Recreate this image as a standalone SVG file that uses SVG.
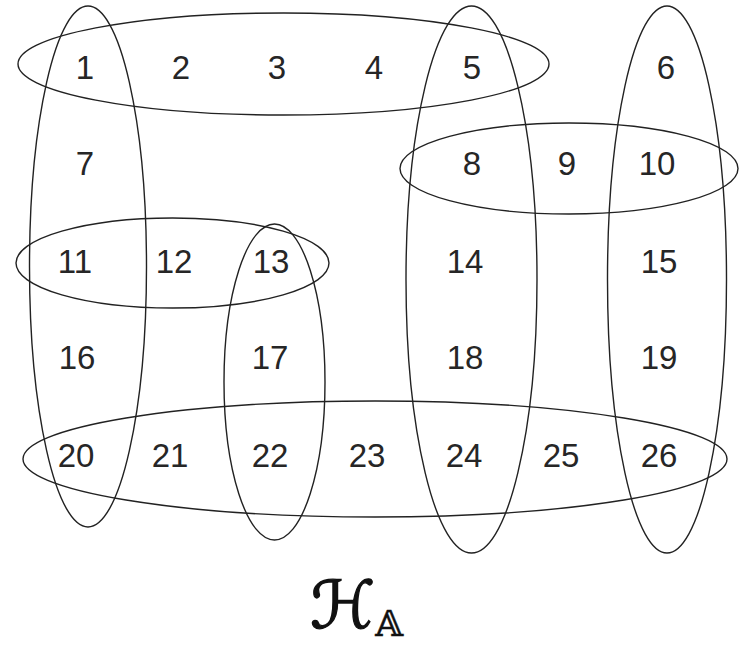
<svg xmlns="http://www.w3.org/2000/svg" width="748" height="646" viewBox="0 0 748 646">
<style>
.e{fill:none;stroke:#222;stroke-width:1.4}
.n{font-family:"Liberation Sans","DejaVu Sans",sans-serif;font-size:33px;fill:#262626;text-anchor:middle}
.lbl{font-family:"DejaVu Serif","DejaVu Sans",serif;fill:#111}
</style>
<rect width="748" height="646" fill="#fff"/>
<g id="hyperedges">
<ellipse class="e" cx="283.5" cy="64" rx="265.5" ry="51"/>
<ellipse class="e" cx="88" cy="266.5" rx="58.5" ry="260.5"/>
<ellipse class="e" cx="172.5" cy="263" rx="156.5" ry="45"/>
<ellipse class="e" cx="274.5" cy="382" rx="50.5" ry="158"/>
<ellipse class="e" cx="471.5" cy="279.5" rx="65.5" ry="273.5"/>
<ellipse class="e" cx="667" cy="279.5" rx="59.5" ry="273.5"/>
<ellipse class="e" cx="569" cy="168.5" rx="169" ry="45.5"/>
<ellipse class="e" cx="375" cy="459" rx="352" ry="58"/>
</g>
<g id="n1"><text class="n" x="85" y="79">1</text></g>
<g id="n2"><text class="n" x="181" y="79">2</text></g>
<g id="n3"><text class="n" x="277" y="79">3</text></g>
<g id="n4"><text class="n" x="374" y="79">4</text></g>
<g id="n5"><text class="n" x="472" y="79">5</text></g>
<g id="n6"><text class="n" x="666" y="79">6</text></g>
<g id="n7"><text class="n" x="85" y="175">7</text></g>
<g id="n8"><text class="n" x="472" y="175">8</text></g>
<g id="n9"><text class="n" x="567" y="175">9</text></g>
<g id="n10"><text class="n" x="657" y="175">10</text></g>
<g id="n11"><text class="n" x="75" y="273">11</text></g>
<g id="n12"><text class="n" x="174" y="273">12</text></g>
<g id="n13"><text class="n" x="271" y="273">13</text></g>
<g id="n14"><text class="n" x="465" y="273">14</text></g>
<g id="n15"><text class="n" x="659" y="273">15</text></g>
<g id="n16"><text class="n" x="77" y="369">16</text></g>
<g id="n17"><text class="n" x="270" y="369">17</text></g>
<g id="n18"><text class="n" x="465" y="369">18</text></g>
<g id="n19"><text class="n" x="659" y="369">19</text></g>
<g id="n20"><text class="n" x="76" y="467">20</text></g>
<g id="n21"><text class="n" x="170" y="467">21</text></g>
<g id="n22"><text class="n" x="270" y="467">22</text></g>
<g id="n23"><text class="n" x="367" y="467">23</text></g>
<g id="n24"><text class="n" x="464" y="467">24</text></g>
<g id="n25"><text class="n" x="561" y="467">25</text></g>
<g id="n26"><text class="n" x="659" y="467">26</text></g>
<g id="label"><text class="lbl" x="310" y="628" font-size="66" stroke="#111" stroke-width="1.3">ℋ<tspan font-size="36" dy="8" stroke-width="0.4">𝔸</tspan></text></g>
</svg>
